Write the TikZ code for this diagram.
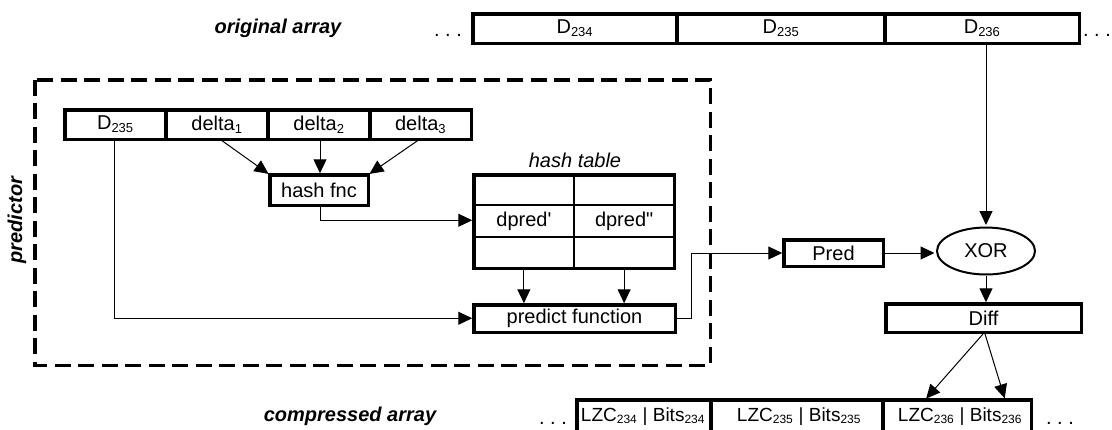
\documentclass[tikz,border=0pt]{standalone}
\usepackage{fontspec}
\setmainfont{Liberation Sans}
\usetikzlibrary{arrows.meta,shapes.geometric}
\newcommand\fsz{\fontsize{20}{23}\selectfont}
\newcommand\fsc{\fontsize{19}{22}\selectfont}
\newcommand\sub[1]{\textsubscript{\fontsize{13}{13}\selectfont #1}}
\newcommand\subc[1]{\textsubscript{\fontsize{12}{12}\selectfont #1}}
\newcommand\cbox[7][]{\node[cell,#1,minimum width={(#5-#3)*1pt},minimum height={(#6-#4)*1pt}] (#2) at (#3,#4) {#7};}
\begin{document}
\begin{tikzpicture}[x=1pt,y=-1pt,
  cell/.style={draw, line width=3.5pt, inner sep=0pt, outer sep=0pt, anchor=north west, font=\fsz},
  thincell/.style={cell, line width=2pt},
  lbl/.style={font=\fsz\bfseries\itshape, inner sep=0pt},
  txt/.style={font=\fsz, inner sep=0pt},
  ctxt/.style={font=\fsc, inner sep=0pt, anchor=base},
  conn/.style={line width=1pt, shorten >=1.5pt, -{Triangle[length=14pt,width=13pt]}},
  dashbox/.style={draw, line width=3.5pt, dash pattern=on 16pt off 7.5pt}]
\clip (0,0) rectangle (1112,429);
% labels
\node[lbl] (origlbl) at (278,28) {original array};
\node[lbl] (complbl) at (350,416) {compressed array};
\node[lbl, rotate=90] (predlbl) at (17,220) {predictor};
\node[txt, anchor=base] (dotsA) at (448,36) {.~.~.};
\node[txt, anchor=base] (dotsB) at (1097,36) {.~.~.};
\node[txt, anchor=base] (dotsC) at (553,424) {.~.~.};
\node[txt, anchor=base] (dotsD) at (1060,424) {.~.~.};
% original array
\cbox{o1}{472.75}{13.75}{677}{43.25}{D\sub{234}}
\cbox{o2}{677}{13.75}{885}{43.25}{D\sub{235}}
\cbox{o3}{885}{13.75}{1079.25}{43.25}{D\sub{236}}
% predictor dashed box
\draw[dashbox] (34.75,79.75) rectangle (710.25,365.25);
% inner row
\cbox{r1}{64.75}{109.75}{166}{139.25}{D\sub{235}}
\cbox{r2}{166}{109.75}{268}{139.25}{delta\sub{1}}
\cbox{r3}{268}{109.75}{370}{139.25}{delta\sub{2}}
\cbox{r4}{370}{109.75}{471.25}{139.25}{delta\sub{3}}
% hash fnc
\cbox{hf}{269.75}{174.75}{368.25}{205.25}{hash fnc}
% hash table
\node[font=\fsz\itshape, inner sep=0pt] (htlbl) at (575,160) {hash table};
\cbox[thincell]{h11}{473.75}{174.75}{574}{205}{}
\cbox[thincell]{h12}{574}{174.75}{674.25}{205}{}
\cbox[thincell]{h21}{473.75}{205}{574}{237}{dpred\textquotesingle}
\cbox[thincell]{h22}{574}{205}{674.25}{237}{dpred\textquotedbl}
\cbox[thincell]{h31}{473.75}{237}{574}{268.25}{}
\cbox[thincell]{h32}{574}{237}{674.25}{268.25}{}
\cbox{ht}{473.75}{174.75}{674.25}{268.25}{}
% predict function
\cbox{pf}{473.75}{304.75}{675.25}{332.25}{predict function}
% Pred, XOR, Diff
\cbox{pr}{783.75}{239.75}{883.25}{266.25}{Pred}
\node[draw, ellipse, line width=2pt, minimum width=98pt, minimum height=47pt, inner sep=0pt, font=\fsz] (xor) at (986,251) {XOR};
\cbox{df}{885.75}{303.75}{1081.25}{332.25}{Diff}
% compressed array
\cbox{c1}{576.75}{399.75}{711}{450}{}
\cbox{c2}{711}{399.75}{883}{450}{}
\cbox{c3}{883}{399.75}{1031.25}{450}{}
\node[ctxt] (c1t) at (643,421) {LZC\subc{234} | Bits\subc{234}};
\node[ctxt] (c2t) at (799,421) {LZC\subc{235} | Bits\subc{235}};
\node[ctxt] (c3t) at (960,421) {LZC\subc{236} | Bits\subc{236}};
% connectors
\draw[conn] (o3.south -| xor.north) -- (xor.north);
\draw[conn] ([xshift=3pt]r2.south) -- (hf.north west);
\draw[conn] ([xshift=1pt]r3.south) -- ([xshift=1pt]hf.north);
\draw[conn] ([xshift=-1pt]r4.south) -- (hf.north east);
\coordinate (hfb) at ([xshift=1pt,yshift=-15pt]hf.south);
\draw[conn] ([xshift=1pt]hf.south) -- (hfb) -- (hfb -| ht.west);
\coordinate (dl) at ([yshift=-179pt]r1.south -| 114,0);
\draw[conn] (r1.south -| 114,0) -- (dl) -- (dl -| pf.west);
\draw[conn] (h31.south) -- (h31.south |- pf.north);
\draw[conn] (h32.south) -- (h32.south |- pf.north);
\coordinate (pk1) at ([xshift=16pt]pf.east);
\coordinate (pk2) at (pk1 |- pr.west);
\draw[conn] (pf.east) -- (pk1) -- (pk2) -- (pr.west);
\draw[conn] (pr.east) -- (pr.east -| xor.west);
\draw[conn] (xor.south) -- (xor.south |- df.north);
\coordinate (dfb) at ([xshift=1pt]df.south);
\draw[conn] (dfb) -- ([xshift=-32pt]c3.north);
\draw[conn] (dfb) -- ([xshift=48pt]c3.north);
\end{tikzpicture}
\end{document}
